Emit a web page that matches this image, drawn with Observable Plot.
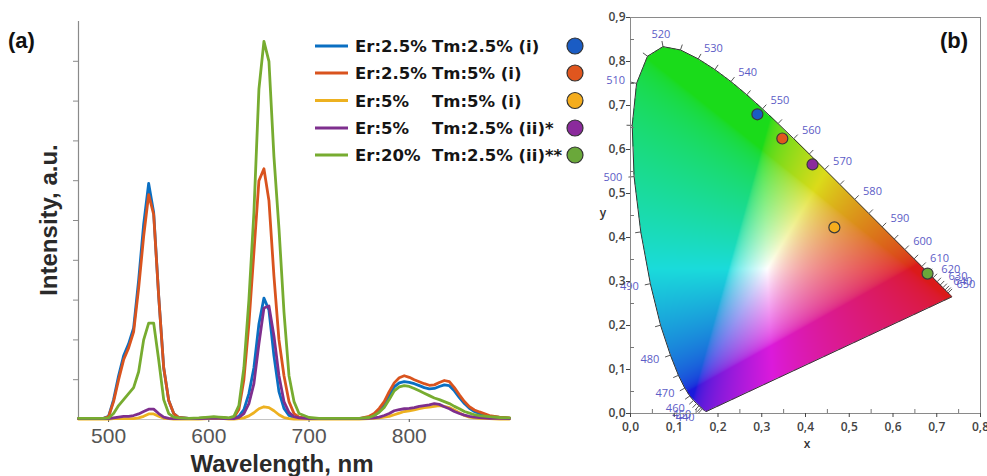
<!DOCTYPE html>
<html><head><meta charset="utf-8">
<script src="https://cdn.jsdelivr.net/npm/d3@7"></script>
<script src="https://cdn.jsdelivr.net/npm/@observablehq/plot@0.6"></script>
<style>
html,body{margin:0;padding:0;background:#fff}
#wrap{position:relative;width:987px;height:476px;overflow:hidden;background:#fff}
#pa,#pb,#ov{position:absolute;top:0}
#pa{left:0}#pb{left:595px}#ov{left:0;pointer-events:none}
</style></head><body>
<div id="wrap"><div id="pa"></div><div id="pb"></div><svg id="ov" width="987" height="476"></svg></div>
<script>
// ---------- Panel (a) data ----------
const wavelengths = [470,480,490,495,500,505,510,515,520,525,530,535,540,545,550,555,560,565,570,580,590,600,605,610,615,620,625,630,635,640,645,650,655,660,665,670,675,680,685,690,700,710,720,730,740,750,760,765,770,775,780,785,790,795,800,805,810,815,820,825,830,835,840,845,850,855,860,865,870,880,890,900];
const er25tm25 = [.02,.02,.02,.03,.08, .5,1.1,1.6,1.9,2.3, 3.5,4.9,5.93,5.2,3.1, 1.3,.48,.15,.05,.03, .03,.04,.05,.05,.04, .03,.04,.08,.25,.65, 1.3,2.4,3.05,2.75,1.6, .7,.28,.1,.05,.03, .02,.02,.02,.02,.02, .02,.05,.1,.2,.38, .6,.82,.92,.95,.93, .9,.85,.8,.77,.78, .83,.87,.85,.72,.55, .4,.28,.2,.15,.08, .05,.03];
const er25tm5 = [.02,.02,.02,.03,.07, .45,1.0,1.5,1.8,2.2, 3.3,4.6,5.65,5.15,3.1, 1.3,.48,.15,.05,.03, .03,.04,.05,.05,.04, .03,.05,.25,1.0,2.4, 4.2,6.0,6.3,5.5,3.6, 2.0,1.1,.45,.15,.06, .03,.02,.02,.02,.02, .02,.08,.15,.28,.45, .7,.92,1.05,1.1,1.06, 1.0,.95,.9,.86,.87, .93,.98,.95,.8,.62, .45,.32,.24,.19,.1, .06,.04];
const er5tm5 = [.01,.01,.01,.01,.01, .02,.02,.02,.02,.02, .04,.08,.14,.14,.08, .03,.02,.01,.01,.01, .01,.02,.02,.02,.02, .01,.01,.02,.04,.09, .17,.27,.32,.3,.22, .12,.05,.02,.01,.01, .01,.01,.01,.01,.01, .01,.02,.03,.04,.06, .08,.12,.16,.2,.22, .24,.27,.3,.31,.33, .35,.33,.3,.24,.17, .1,.06,.04,.03,.02, .01,.01];
const er5tm25 = [.02,.02,.02,.02,.02, .04,.06,.08,.08,.1, .14,.2,.26,.26,.15, .06,.03,.02,.02,.02, .02,.03,.03,.03,.02, .02,.02,.05,.15,.4, .9,1.9,2.8,2.85,2.1, 1.1,.45,.18,.07,.04, .02,.02,.02,.02,.02, .02,.03,.04,.06,.1, .15,.22,.25,.27,.28, .3,.33,.35,.37,.4, .38,.32,.27,.2,.15, .11,.08,.06,.05,.03, .03,.02];
const er20tm25 = [.03,.03,.03,.03,.04, .15,.35,.5,.65,.8, 1.2,2.0,2.42,2.42,1.5, .5,.15,.06,.04,.03, .04,.06,.07,.06,.05, .04,.08,.35,1.3,3.0, 5.2,8.3,9.5,9.0,6.6, 4.8,2.7,1.1,.45,.15, .05,.03,.03,.03,.03, .03,.05,.1,.18,.3, .5,.72,.82,.85,.83, .78,.72,.66,.6,.54, .5,.45,.4,.33,.27, .2,.16,.12,.1,.07, .05,.04];

const legendEr = ["Er:2.5%","Er:2.5%","Er:5%","Er:5%","Er:20%"];
const legendTm = ["Tm:2.5% (i)","Tm:5% (i)","Tm:5% (i)","Tm:2.5% (ii)*","Tm:2.5% (ii)**"];
const lineColors = ["#0a6fc2","#d9531e","#edb120","#7e2f8e","#77ac30"];
const dotColors = ["#1a5cc4","#e0561e","#f5ad1d","#8b2a9c","#6aa83a"];
const seriesValues = [er25tm25, er25tm5, er5tm5, er5tm25, er20tm25];

const xTicksA = [500,600,700,800];
const yTicksA = [1,2,3,4,5,6,7,8,9];
const xDomainA = [470,900];
const yDomainA = [0,10];

// ---------- Panel (b) data ----------
const cieX = [0.290,0.347,0.466,0.416,0.679];
const cieY = [0.680,0.625,0.423,0.566,0.318];
const locusNm = [380,385,390,395,400,405,410,415,420,425,430,435,440,445,450,455,460,465,470,475,480,485,490,495,500,505,510,515,520,525,530,535,540,545,550,555,560,565,570,575,580,585,590,595,600,605,610,615,620,625,630,635,640,645,650,655,660,665,670,675,680,685,690,695,700];
const locusX = [0.1741,0.1740,0.1738,0.1736,0.1733,0.1730,0.1726,0.1721,0.1714,0.1703,0.1689,0.1669,0.1644,0.1611,0.1566,0.1510,0.1440,0.1355,0.1241,0.1096,0.0913,0.0687,0.0454,0.0235,0.0082,0.0039,0.0139,0.0389,0.0743,0.1142,0.1547,0.1929,0.2296,0.2658,0.3016,0.3373,0.3731,0.4087,0.4441,0.4788,0.5125,0.5448,0.5752,0.6029,0.6270,0.6482,0.6658,0.6801,0.6915,0.7006,0.7079,0.7140,0.7190,0.7230,0.7260,0.7283,0.7300,0.7311,0.7320,0.7327,0.7334,0.7340,0.7344,0.7346,0.7347];
const locusY = [0.0050,0.0050,0.0049,0.0049,0.0048,0.0048,0.0048,0.0048,0.0051,0.0058,0.0069,0.0086,0.0109,0.0138,0.0177,0.0227,0.0297,0.0399,0.0578,0.0868,0.1327,0.2007,0.2950,0.4127,0.5384,0.6548,0.7502,0.8120,0.8338,0.8262,0.8059,0.7816,0.7543,0.7243,0.6923,0.6589,0.6245,0.5896,0.5547,0.5202,0.4866,0.4544,0.4242,0.3965,0.3725,0.3514,0.3340,0.3197,0.3083,0.2993,0.2920,0.2859,0.2809,0.2770,0.2740,0.2717,0.2700,0.2689,0.2680,0.2673,0.2666,0.2660,0.2656,0.2654,0.2653];
const tickRange = [440,650];
const labelNm = [440,450,460,470,480,490,500,510,520,530,540,550,560,570,580,590,600,610,620,630,640,650];
const xTicksB = [0,0.1,0.2,0.3,0.4,0.5,0.6,0.7,0.8];
const yTicksB = [0,0.1,0.2,0.3,0.4,0.5,0.6,0.7,0.8,0.9];
const xMinorB = [0.05,0.15,0.25,0.35,0.45,0.55,0.65,0.75];
const yMinorB = [0.05,0.15,0.25,0.35,0.45,0.55,0.65,0.75,0.85];
const xDomainB = [0,0.8];
const yDomainB = [0,0.9];

// ---------- Panel (a) ----------
const seriesMarks = seriesValues.map((vals, s) =>
  Plot.line(wavelengths.map((w, i) => ({w, v: vals[i]})), {x: "w", y: "v", stroke: lineColors[s], strokeWidth: 2.8, strokeLinejoin: "round"})
);
const plotA = Plot.plot({
  width: 600, height: 476,
  marginLeft: 78, marginRight: 91, marginTop: 21, marginBottom: 57,
  x: {domain: xDomainA}, y: {domain: yDomainA},
  style: {fontFamily: "'Liberation Sans', Arial, sans-serif", background: "transparent"},
  marks: [
    Plot.ruleY([yDomainA[0]], {stroke: "#c4c4c4", strokeWidth: 1.2}),
    Plot.ruleX([xDomainA[0]], {stroke: "#8a8a8a", strokeWidth: 1.2}),
    Plot.axisY({ticks: yTicksA, tickSize: 5, tickFormat: () => "", color: "#8a8a8a", label: null}),
    Plot.axisX({ticks: xTicksA, tickSize: 3, tickPadding: 6, fontSize: 21, color: "#555", label: null}),
    ...seriesMarks
  ]
});
document.getElementById("pa").appendChild(plotA);

// ---------- Panel (b) ----------
const polygon = locusX.map((x, i) => [x, locusY[i]]);
function gam(c) { return c <= 0.0031308 ? 12.92 * c : 1.055 * Math.pow(c, 1 / 2.4) - 0.055; }
function chromaColor(x, y) {
  if (y <= 0 || !d3.polygonContains(polygon, [x, y])) return null;
  const X = x / y, Y = 1, Z = (1 - x - y) / y;
  let r = 3.2406 * X - 1.5372 * Y - 0.4986 * Z;
  let g = -0.9689 * X + 1.8758 * Y + 0.0415 * Z;
  let b = 0.0557 * X - 0.2040 * Y + 1.0570 * Z;
  r = Math.max(0, r); g = Math.max(0, g); b = Math.max(0, b);
  const m = Math.max(r, g, b) || 1;
  r = gam(r / m); g = gam(g / m); b = gam(b / m);
  const mx = Math.max(r, g, b), mn = Math.min(r, g, b);
  const sat = mx > 0 ? 1 - mn / mx : 0;
  const k = 1 - 0.24 * sat, add = 0.1 * sat;
  const f = c => Math.round(Math.min(1, c * k + add) * 255);
  return `rgb(${f(r)},${f(g)},${f(b)})`;
}
const locusPts = locusNm.map((nm, i) => {
  const i0 = Math.max(0, i - 1), i1 = Math.min(locusNm.length - 1, i + 1);
  const dx = locusX[i1] - locusX[i0], dy = locusY[i1] - locusY[i0];
  const len = Math.hypot(dx, dy) || 1;
  return {nm, x: locusX[i], y: locusY[i], nx: -dy / len, ny: dx / len};
});
const closed = [...locusPts, locusPts[0]];
const tickPts = locusPts.filter(d => d.nm >= tickRange[0] && d.nm <= tickRange[1]);
const tickLen = 0.013, labelOff = 0.027;
const labelPts = locusPts.filter(d => labelNm.includes(d.nm));
const lblStart = labelPts.filter(d => d.nx > 0.35);
const lblEnd = labelPts.filter(d => d.nx < -0.35);
const lblMid = labelPts.filter(d => Math.abs(d.nx) <= 0.35);
const lblOpts = (anchor) => ({
  x: d => d.x + d.nx * labelOff, y: d => d.y + d.ny * labelOff, text: d => String(d.nm),
  textAnchor: anchor, fill: "#5c5cc6", fontSize: 11
});
const commaFmt = d => d3.format(".1f")(d).replace(".", ",");
const points = cieX.map((x, i) => ({x, y: cieY[i], c: dotColors[i]}));

const plotB = Plot.plot({
  width: 392, height: 476,
  marginLeft: 35, marginRight: 7, marginTop: 17, marginBottom: 63,
  x: {domain: xDomainB}, y: {domain: yDomainB},
  color: {type: "identity"},
  style: {fontFamily: "'Open Sans', sans-serif", background: "transparent"},
  marks: [
    Plot.raster({fill: chromaColor, x1: xDomainB[0], x2: xDomainB[1], y1: yDomainB[0], y2: yDomainB[1]}),
    Plot.line(closed, {x: "x", y: "y", stroke: "#333", strokeWidth: 1}),
    Plot.link(tickPts, {x1: "x", y1: "y", x2: d => d.x + d.nx * tickLen, y2: d => d.y + d.ny * tickLen, stroke: "#555", strokeWidth: 1}),
    Plot.text(lblStart, lblOpts("start")),
    Plot.text(lblEnd, lblOpts("end")),
    Plot.text(lblMid, lblOpts("middle")),
    Plot.dot(points, {x: "x", y: "y", r: 5.5, fill: "c", stroke: "#3a3a3a", strokeWidth: 1.2}),
    Plot.frame({stroke: "#8a8a8a"}),
    Plot.axisX({ticks: xTicksB, tickSize: 4, tickPadding: 5, tickFormat: commaFmt, fontSize: 12, fontWeight: 600, color: "#444", label: null}),
    Plot.axisX({ticks: xMinorB, tickSize: -4, tickFormat: () => "", color: "#777", label: null}),
    Plot.axisY({ticks: yTicksB, tickSize: 4, tickPadding: 1, tickFormat: commaFmt, fontSize: 12, fontWeight: 600, color: "#444", label: null}),
    Plot.axisY({ticks: yMinorB, tickSize: -4, tickFormat: () => "", color: "#777", label: null})
  ]
});
document.getElementById("pb").appendChild(plotB);

// ---------- Overlay: titles, panel labels, legend ----------
const ov = d3.select("#ov");
const bold = "'Liberation Sans', Arial, sans-serif";
ov.append("text").attr("x", 8).attr("y", 48).attr("font-family", bold).attr("font-weight", "bold").attr("font-size", 22).attr("fill", "#111").text("(a)");
ov.append("text").attr("x", 940).attr("y", 48).attr("font-family", bold).attr("font-weight", "bold").attr("font-size", 22).attr("fill", "#111").text("(b)");
ov.append("text").attr("transform", "translate(57,220) rotate(-90)").attr("text-anchor", "middle").attr("font-family", bold).attr("font-weight", "bold").attr("font-size", 24).attr("fill", "#2a2a2a").text("Intensity, a.u.");
ov.append("text").attr("x", 282).attr("y", 472).attr("text-anchor", "middle").attr("font-family", bold).attr("font-weight", "bold").attr("font-size", 24).attr("fill", "#2a2a2a").text("Wavelength, nm");
ov.append("text").attr("x", 807).attr("y", 448).attr("text-anchor", "middle").attr("font-family", "'Open Sans', sans-serif").attr("font-weight", 600).attr("font-size", 12).attr("fill", "#333").text("x");
ov.append("text").attr("x", 603).attr("y", 217).attr("text-anchor", "middle").attr("font-family", "'Open Sans', sans-serif").attr("font-weight", 600).attr("font-size", 12).attr("fill", "#333").text("y");

const rowY = [46, 73, 100.5, 128, 155];
legendEr.forEach((er, i) => {
  const cy = rowY[i];
  ov.append("line").attr("x1", 315).attr("x2", 348).attr("y1", cy).attr("y2", cy).attr("stroke", lineColors[i]).attr("stroke-width", 3);
  const f = "'DejaVu Sans', sans-serif";
  ov.append("text").attr("x", 355).attr("y", cy + 6).attr("font-family", f).attr("font-weight", "bold").attr("font-size", 16.5).attr("fill", "#151515").text(er);
  ov.append("text").attr("x", 432).attr("y", cy + 6).attr("font-family", f).attr("font-weight", "bold").attr("font-size", 16.5).attr("fill", "#151515").text(legendTm[i]);
  ov.append("circle").attr("cx", 575).attr("cy", cy).attr("r", 8).attr("fill", dotColors[i]).attr("stroke", "#333").attr("stroke-width", 1.2);
});
</script>
</body></html>
